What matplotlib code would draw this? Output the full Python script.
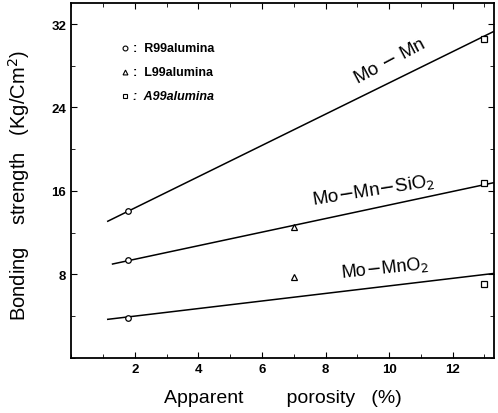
import numpy as np
import matplotlib
matplotlib.use('Agg')
import matplotlib.pyplot as plt
from matplotlib.ticker import MultipleLocator

plt.rcParams['font.family'] = ['Liberation Sans', 'DejaVu Sans']

# measured points (porosity %, strength kg/cm2)
porosity = [1.8, 7.0, 13.0]
mo_mn = [14.1, 22.0, 30.6]
mo_mn_sio2 = [9.4, 12.5, 16.8]
mo_mno2 = [3.8, 7.8, 7.1]

# fitted lines (end points)
fit_x = [1.15, 13.3]
fit_mo_mn = [13.1, 31.3]
fit_x2 = [1.3, 13.3]
fit_mo_mn_sio2 = [9.0, 16.8]
fit_mo_mno2 = [3.7, 8.1]

markers = ['o', '^', 's']

fig = plt.figure(figsize=(4.98, 4.14), dpi=100)
ax = fig.add_axes([0.143, 0.133, 0.849, 0.857])

ax.plot(fit_x, fit_mo_mn, c='black', lw=1.1)
ax.plot(fit_x2, fit_mo_mn_sio2, c='black', lw=1.1)
ax.plot(fit_x, fit_mo_mno2, c='black', lw=1.1)

for series in [mo_mn, mo_mn_sio2, mo_mno2]:
    for x, y, m in zip(porosity, series, markers):
        if series is mo_mn and m == '^':
            continue
        ax.plot(x, y, marker=m, ms=4, mfc='white', mec='black', mew=0.9, ls='none')

ax.text(8.8, 26.0, 'Mo $-$ Mn', rotation=28, fontsize=13.5, ha='left', va='bottom')
ax.text(7.55, 14.2, 'Mo$-$Mn$-$SiO$_2$', rotation=9, fontsize=13.5, ha='left', va='bottom')
ax.text(8.45, 7.3, 'Mo$-$MnO$_2$', rotation=6, fontsize=13, ha='left', va='bottom')

# legend entries
legend_labels = ['R99alumina', 'L99alumina', 'A99alumina']
for i, (m, lab) in enumerate(zip(markers, legend_labels)):
    yy = 29.7 - i * 2.3
    ax.plot(1.68, yy, marker=m, ms=3.5, mfc='white', mec='black', mew=0.8, ls='none')
    ax.text(1.95, yy, ':  ' + lab, fontsize=9, fontweight='bold', va='center',
            style='italic' if i == 2 else 'normal')

ax.set_xlim(0, 13.3)
ax.set_ylim(0, 34)
ax.set_xticks([2, 4, 6, 8, 10, 12])
ax.xaxis.set_minor_locator(MultipleLocator(1))
ax.set_yticks([8, 16, 24, 32])
ax.yaxis.set_minor_locator(MultipleLocator(4))
ax.tick_params(which='both', direction='in', top=True, right=True, labelsize=9.5)
ax.tick_params(which='major', length=4)
ax.tick_params(which='minor', length=3)
for lab in ax.get_xticklabels() + ax.get_yticklabels():
    lab.set_fontweight('bold')
for s in ax.spines.values():
    s.set_linewidth(1.3)

ax.set_xlabel('Apparent        porosity   (%)', fontsize=14, labelpad=10)
ax.set_ylabel('Bonding    strength   (Kg/Cm$^2$)', fontsize=14.5)
ax.yaxis.set_label_coords(-0.093, 0.49)

fig.savefig('out.png', dpi=100)
